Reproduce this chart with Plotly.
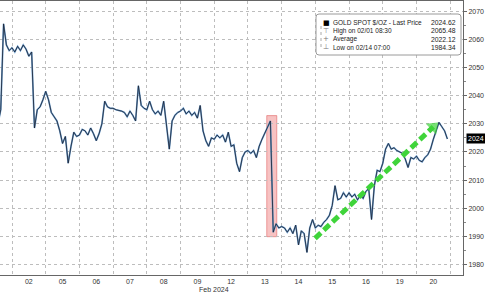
import plotly.graph_objects as go

# ---- data ----
day_labels = ["01", "02", "05", "06", "07", "08", "09", "12", "13", "14", "15", "16", "19", "20"]
points_per_day = 12

d01 = [2038, 2040, 2037, 2039, 2041, 2038, 2036, 2030, 2035, 2065.48, 2058, 2056]
d02 = [2057, 2055.5, 2057.5, 2056, 2058, 2056.5, 2054, 2055.5, 2028.5, 2035, 2036, 2038.5]
d05 = [2041.5, 2038.5, 2034, 2032.5, 2031, 2027.5, 2023, 2025.5, 2016, 2022, 2027, 2025.5]
d06 = [2026, 2028, 2027.5, 2026, 2028.5, 2026.5, 2024, 2026.5, 2030, 2038, 2036, 2035.5]
d07 = [2035.5, 2035, 2034.8, 2034.5, 2034, 2032.5, 2034.5, 2033, 2031, 2043.5, 2036.5, 2035.5]
d08 = [2035, 2038, 2035, 2033.5, 2034.5, 2033, 2038, 2029, 2021, 2031, 2033, 2034]
d09 = [2034.5, 2035.5, 2033.5, 2034.5, 2033, 2034, 2032, 2036.5, 2027.5, 2024, 2022, 2025]
d12 = [2024.5, 2026, 2025, 2026, 2023.5, 2027, 2022, 2022.5, 2016, 2013, 2018, 2020]
d13 = [2020.5, 2019.5, 2020.5, 2018, 2022, 2024.5, 2026.5, 2028.5, 2031, 1991.5, 1994.5, 1993]
d14 = [1993.5, 1993, 1991.5, 1993, 1991, 1994, 1987, 1992, 1991, 1984.34, 1993, 1996]
d15 = [1993, 1994, 1993.5, 1995, 1996, 1997.5, 2001, 2008, 2003, 2003.5, 2005.5, 2004]
d16 = [2005.5, 2004, 2005, 2003, 2004.5, 2003.5, 2006, 2007, 1996, 2008, 2013.5, 2013]
d19 = [2016, 2021, 2023, 2021, 2021.5, 2020.5, 2020, 2019.5, 2017.5, 2014.5, 2018, 2017.5]
d20 = [2018.5, 2017, 2016.5, 2018, 2019, 2021, 2024.5, 2027.5, 2030.5, 2029, 2027.5, 2024.62]
days = [d01, d02, d05, d06, d07, d08, d09, d12, d13, d14, d15, d16, d19, d20]

y_ticks = [1980, 1990, 2000, 2010, 2020, 2030, 2040, 2050, 2060, 2070]

legend_rows = [
    ("■", "GOLD SPOT $/OZ - Last Price", "2024.62"),
    ("⊤", "High on 02/01 08:30", "2065.48"),
    ("+", "Average", "2022.12"),
    ("⊥", "Low on 02/14 07:00", "1984.34"),
]
last_price = 2024.62

# highlight box (drop on 13th) and trend arrow
drop_box = dict(x0=8.558, x1=8.855, y0=1989.9, y1=2032.9)
arrow_start = (9.99, 1989.3)
arrow_end = (13.50, 2028.9)

# ---- build ----
xs, ys = [], []
for d, vals in enumerate(days):
    for k, v in enumerate(vals):
        xs.append(d + k / points_per_day)
        ys.append(v)

W, H = 485, 293
ml, mr, mt, mb = 0, 22, 1, 18
pw, ph = W - ml - mr, H - mt - mb
FONT = "Liberation Sans"


def px(x):
    return (x - ml) / pw


def py(y):
    return (H - mb - y) / ph


fig = go.Figure()
fig.add_trace(go.Scatter(x=xs, y=ys, mode="lines",
                         line=dict(color="#6d9fcf", width=1.7), hoverinfo="skip"))
fig.add_trace(go.Scatter(x=xs, y=ys, mode="lines",
                         line=dict(color="#1a1f2e", width=0.8)))

# trend arrow
fig.add_trace(go.Scatter(
    x=[arrow_start[0], arrow_end[0]], y=[arrow_start[1], arrow_end[1]],
    mode="lines+markers",
    line=dict(color="#3fd43a", width=5, dash="8px,4px"),
    marker=dict(symbol="triangle-up", size=[0, 13], angleref="previous",
                color="#3fd43a", line=dict(width=0)),
))

fig.add_shape(type="rect", xref="x", yref="y", layer="below",
              fillcolor="rgba(238,120,120,0.45)",
              line=dict(color="rgba(225,100,100,0.6)", width=1), **drop_box)

tick_centers = [i + 0.5 for i in range(len(day_labels))]
grid_vals = list(range(1, len(day_labels) + 1))

fig.update_layout(
    width=W, height=H,
    margin=dict(l=ml, r=mr, t=mt, b=mb),
    paper_bgcolor="white", plot_bgcolor="white",
    showlegend=False,
    font=dict(family=FONT, size=7, color="#333"),
    xaxis=dict(
        range=[0.644, 14.38],
        tickmode="array", tickvals=tick_centers, ticktext=day_labels,
        showgrid=False, zeroline=False, ticks="",
        showline=True, linecolor="#666", linewidth=1, mirror=True,
        tickfont=dict(family=FONT, size=7, color="#333"),
        minor=dict(tickmode="array", tickvals=grid_vals, showgrid=True,
                   gridcolor="#bdbdbd", griddash="dot", gridwidth=1, ticks=""),
    ),
    yaxis=dict(
        range=[1976.3, 2073.6], side="right",
        tickmode="array", tickvals=y_ticks,
        showgrid=True, gridcolor="#bdbdbd", griddash="dot", gridwidth=1,
        zeroline=False, showline=True, linecolor="#666", linewidth=1,
        ticks="outside", ticklen=3, tickcolor="#666",
        minor=dict(dtick=5, tick0=1975, ticks="outside", ticklen=2, tickcolor="#888", showgrid=False),
        tickfont=dict(family=FONT, size=7, color="#333"),
    ),
)

fig.add_annotation(text="Feb 2024", xref="paper", yref="paper",
                   x=px(214), y=py(289), showarrow=False,
                   font=dict(family=FONT, size=7, color="#333"), xanchor="center", yanchor="middle")

# last price tag
fig.add_annotation(text="2024", xref="paper", yref="y", x=1, y=last_price,
                   xanchor="left", yanchor="middle", xshift=3, showarrow=False,
                   bgcolor="black", font=dict(family=FONT, size=7, color="white"), borderpad=1)

# legend box
bx0, bx1, by0, by1, r = 316, 461, 14, 55, 3
path = (f"M {px(bx0 + r)} {py(by0)} L {px(bx1 - r)} {py(by0)} "
        f"Q {px(bx1)} {py(by0)} {px(bx1)} {py(by0 + r)} "
        f"L {px(bx1)} {py(by1 - r)} Q {px(bx1)} {py(by1)} {px(bx1 - r)} {py(by1)} "
        f"L {px(bx0 + r)} {py(by1)} Q {px(bx0)} {py(by1)} {px(bx0)} {py(by1 - r)} "
        f"L {px(bx0)} {py(by0 + r)} Q {px(bx0)} {py(by0)} {px(bx0 + r)} {py(by0)} Z")
fig.add_shape(type="path", xref="paper", yref="paper", path=path,
              fillcolor="white", line=dict(color="#9a9a9a", width=1), layer="above")
fig.add_shape(type="line", xref="paper", yref="paper",
              x0=px(321), x1=px(321), y0=py(26), y1=py(48),
              line=dict(color="#aaa", width=1, dash="dot"), layer="above")

row_y = [22.7, 30.5, 39.0, 47.3]
for (icon, label, val), ry in zip(legend_rows, row_y):
    fig.add_annotation(text=icon, xref="paper", yref="paper", x=px(326), y=py(ry),
                       xanchor="center", yanchor="middle", showarrow=False,
                       font=dict(family="DejaVu Sans", size=7,
                                 color="black" if icon == "■" else "#777"))
    fig.add_annotation(text=label, xref="paper", yref="paper", x=px(331), y=py(ry),
                       xanchor="left", yanchor="middle", showarrow=False,
                       font=dict(family=FONT, size=6.5, color="#222"))
    fig.add_annotation(text=val, xref="paper", yref="paper", x=px(458), y=py(ry),
                       xanchor="right", yanchor="middle", showarrow=False,
                       font=dict(family=FONT, size=6.8, color="#222"))

fig.write_html("out.html")
